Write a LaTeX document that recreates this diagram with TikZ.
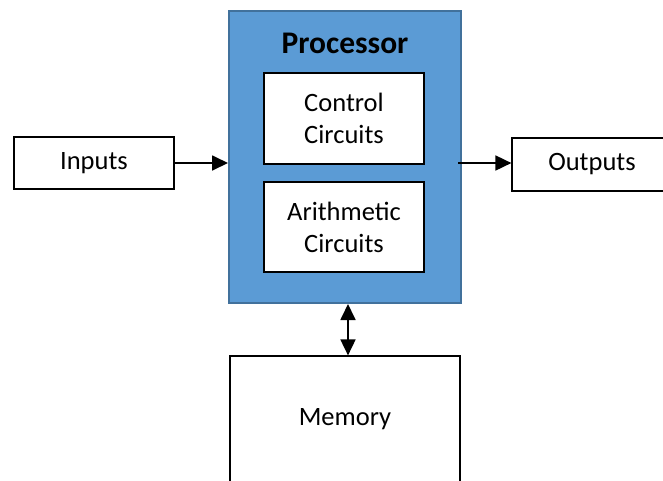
\documentclass[tikz,border=0pt]{standalone}
\usepackage{fontspec}
\setmainfont{Carlito}
\usetikzlibrary{arrows.meta}
\definecolor{procfill}{HTML}{5B9BD5}
\definecolor{procdraw}{HTML}{41719C}
\begin{document}
\begin{tikzpicture}[x=1pt,y=-1pt,
  box/.style={draw=black, line width=1.2pt, fill=white, inner sep=0pt, align=center,
    font=\fontsize{26.5}{32}\selectfont},
  arr/.style={line width=1.8pt, -{Triangle[length=16pt,width=15pt]}},
  arrboth/.style={line width=1.8pt, {Triangle[length=16pt,width=15pt]}-{Triangle[length=16pt,width=15pt]}},
]
\useasboundingbox (0,0) rectangle (663,480);
\node[draw=procdraw, fill=procfill, line width=2pt, minimum width=232pt, minimum height=292pt, inner sep=0pt] (proc) at (345,157) {};
\node[font=\fontsize{31.5}{38}\selectfont\bfseries, inner sep=0pt] (ptitle) at (345,43) {Processor};
\node[box, minimum width=160pt, minimum height=91pt] (ctrl) at (344,118.5) {Control\\Circuits};
\node[box, minimum width=160pt, minimum height=90pt] (arith) at (344,227) {Arithmetic\\Circuits};
\node[box, minimum width=160pt, minimum height=52pt] (in) at (94,163) {Inputs};
\node[box, minimum width=160pt, minimum height=53pt] (out) at (592,164.5) {Outputs};
\node[box, minimum width=230pt, minimum height=140pt, text depth=19pt] (mem) at (345,426) {Memory};
\draw[arr] (in.east |- 0,163) -- (proc.west |- 0,163);
\draw[arr] ([xshift=-4pt]proc.east |- 0,163) -- (out.west |- 0,163);
\draw[arrboth] ([xshift=3pt]proc.south) -- ([xshift=3pt]mem.north);
\end{tikzpicture}
\end{document}
